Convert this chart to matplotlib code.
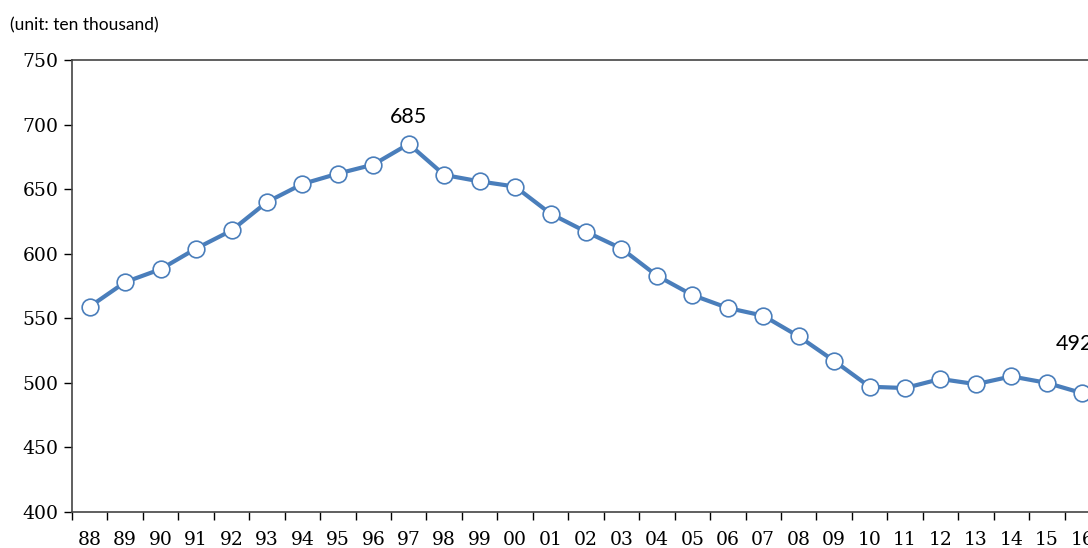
import numpy as np
import matplotlib
matplotlib.use("Agg")
import matplotlib.pyplot as plt

years = ["88", "89", "90", "91", "92", "93", "94", "95", "96", "97",
         "98", "99", "00", "01", "02", "03", "04", "05", "06", "07",
         "08", "09", "10", "11", "12", "13", "14", "15", "16"]
values = [559, 578, 588, 604, 618, 640, 654, 662, 669, 685,
          661, 656, 652, 631, 617, 604, 583, 568, 558, 552,
          536, 517, 497, 496, 503, 499, 505, 500, 492]
# labelled points and how far above the marker the text sits (points)
labelled = {"97": (685, 12), "16": (492, 28)}

fig = plt.figure(figsize=(10.88, 5.48), dpi=100)
ax = fig.add_axes([72 / 1088, 36 / 548, 1028 / 1088, 452 / 548])

x = np.arange(len(years))
ax.plot(x, values, color="#4a7ebb", lw=3, marker="o", ms=12,
        mfc="white", mec="#4a7ebb", mew=1.2, zorder=3)

for yr, (v, off) in labelled.items():
    i = years.index(yr)
    ax.annotate(str(v), (x[i], v), xytext=(-6 if yr == "16" else 0, off),
                textcoords="offset points", ha="center", va="bottom",
                fontsize=15.5, family="Lato")

ax.set_xlim(-0.5, len(years) - 0.5)
ax.set_ylim(400, 750)
ax.set_yticks(np.arange(400, 751, 50))
ax.set_xticks(np.arange(-0.5, len(years), 1))
ax.set_xticklabels([])
ax.set_xticks(x, minor=True)
ax.set_xticklabels(years, minor=True)
ax.tick_params(axis="x", which="minor", length=0, pad=14)
ax.tick_params(axis="x", which="major", length=6, width=1, direction="out")
ax.tick_params(axis="y", length=6, width=1, direction="out")

for lab in ax.get_xticklabels(minor=True) + ax.get_yticklabels():
    lab.set_fontfamily("DejaVu Serif")
    lab.set_fontsize(13.5)

for s in ["left", "bottom", "top"]:
    ax.spines[s].set_color("#444444")
    ax.spines[s].set_linewidth(1.2)
ax.spines["right"].set_visible(False)

fig.text(10 / 1088, 1 - 25 / 548, "(unit: ten thousand)", fontsize=12.5,
         family="Lato", va="center", ha="left")

fig.savefig("out.png", dpi=100)
